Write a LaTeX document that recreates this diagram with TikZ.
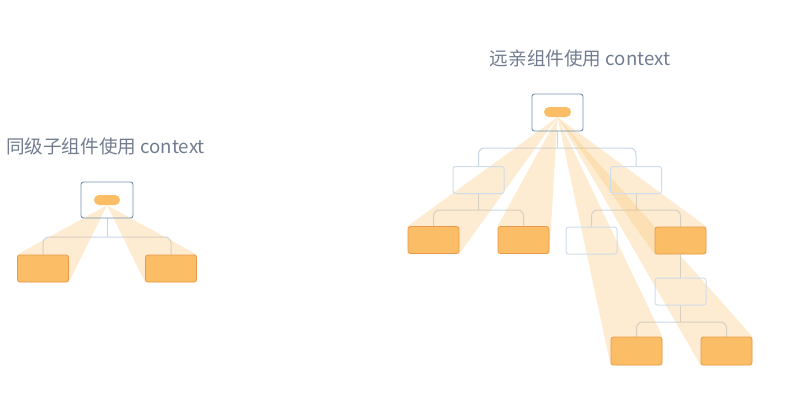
\documentclass[tikz,border=0pt]{standalone}
\usepackage{fontspec}
\newfontfamily\cjk{Noto Sans CJK SC}
\pgfdeclarelayer{bg}
\pgfdeclarelayer{mid}
\pgfsetlayers{bg,mid,main}
\definecolor{titlec}{HTML}{717C90}
\definecolor{rootc}{HTML}{7090AE}
\definecolor{orfill}{HTML}{FBBE66}
\definecolor{ordraw}{HTML}{E89A4C}
\definecolor{ghostc}{HTML}{CFDCEB}
\definecolor{linkc}{HTML}{C8D6E6}
\definecolor{beamc}{HTML}{F9C06A}
\tikzset{
  rootbox/.style={draw=rootc, line width=0.9pt, rounded corners=2.5pt, inner sep=0pt},
  pill/.style={fill=orfill, draw=none, rounded corners=5pt, minimum width=26pt, minimum height=10pt, inner sep=0pt},
  leaf/.style={fill=orfill, draw=ordraw, line width=0.8pt, rounded corners=2.5pt, minimum width=51pt, minimum height=27pt, inner sep=0pt},
  ghost/.style={draw=ghostc, line width=1pt, rounded corners=2.5pt, minimum width=51pt, minimum height=27pt, inner sep=0pt},
  link/.style={draw=linkc, line width=1pt, rounded corners=6pt},
  beam/.style={fill=beamc, fill opacity=0.30, draw=none},
  title/.style={text=titlec, font=\cjk\fontsize{18.6}{22}\selectfont, inner sep=0pt}
}
\begin{document}
\begin{tikzpicture}[x=1pt,y=-1pt]
\useasboundingbox (0,0) rectangle (796,416);
% titles
\node[title] (t1) at (105.5,146) {同级子组件使用 context};
\node[title] (t2) at (580,58) {远亲组件使用 context};
% left diagram
\node[rootbox, minimum width=52pt, minimum height=36pt] (r1) at (107,200) {};
\node[pill] (p1) at (107,200) {};
\node[leaf] (l1) at (43,268.5) {};
\node[leaf] (l2) at (171,268.5) {};
\coordinate (b1) at (107,237);
% right diagram
\node[rootbox, minimum width=51pt, minimum height=37pt] (r2) at (557.5,112.5) {};
\node[pill, minimum width=27pt] (p2) at (557.5,112) {};
\node[ghost] (g1) at (478.5,180) {};
\node[ghost] (g2) at (636,180) {};
\node[leaf] (A) at (433.5,240) {};
\node[leaf] (B) at (523.5,240) {};
\node[ghost] (g3) at (591.5,240.5) {};
\node[leaf] (C) at (680.5,240.5) {};
\node[ghost] (g4) at (680.5,291.5) {};
\node[leaf, minimum height=28pt] (D) at (636.5,351) {};
\node[leaf, minimum height=28pt] (E) at (726.5,351) {};
\coordinate (b2) at (557.5,148);
\coordinate (b3) at (478.5,210);
\coordinate (b4) at (636,210);
\coordinate (b5) at (680.5,322);
\begin{pgfonlayer}{bg}
  \draw[link] (r1.south) -- (b1);
  \draw[link] (l1.north) |- (b1) -| (l2.north);
  \draw[link] (r2.south) -- (b2);
  \draw[link] (g1.north) |- (b2) -| (g2.north);
  \draw[link] (g1.south) -- (b3);
  \draw[link] (A.north) |- (b3) -| (B.north);
  \draw[link] (g2.south) -- (b4);
  \draw[link] (g3.north) |- (b4) -| (C.north);
  \draw[link] (C.south) -- (g4.north);
  \draw[link] (g4.south) -- (b5);
  \draw[link] (D.north) |- (b5) -| (E.north);
\end{pgfonlayer}
\begin{pgfonlayer}{mid}
  \fill[beam] (p1.south) -- (l1.north west) -- (l1.south west) -- (l1.south east) -- cycle;
  \fill[beam] (p1.south) -- (l2.north east) -- (l2.south east) -- (l2.south west) -- cycle;
  \fill[beam] (p2.south) -- (A.north west) -- (A.south west) -- (A.south east) -- cycle;
  \fill[beam] (p2.south) -- (B.north west) -- (B.south west) -- (B.south east) -- cycle;
  \fill[beam] (p2.south) -- (C.north east) -- (C.south east) -- (C.south west) -- cycle;
  \fill[beam] (p2.south) -- (D.north east) -- (D.south east) -- (D.south west) -- cycle;
  \fill[beam] (p2.south) -- (E.north east) -- (E.south east) -- (E.south west) -- cycle;
\end{pgfonlayer}
\end{tikzpicture}
\end{document}
